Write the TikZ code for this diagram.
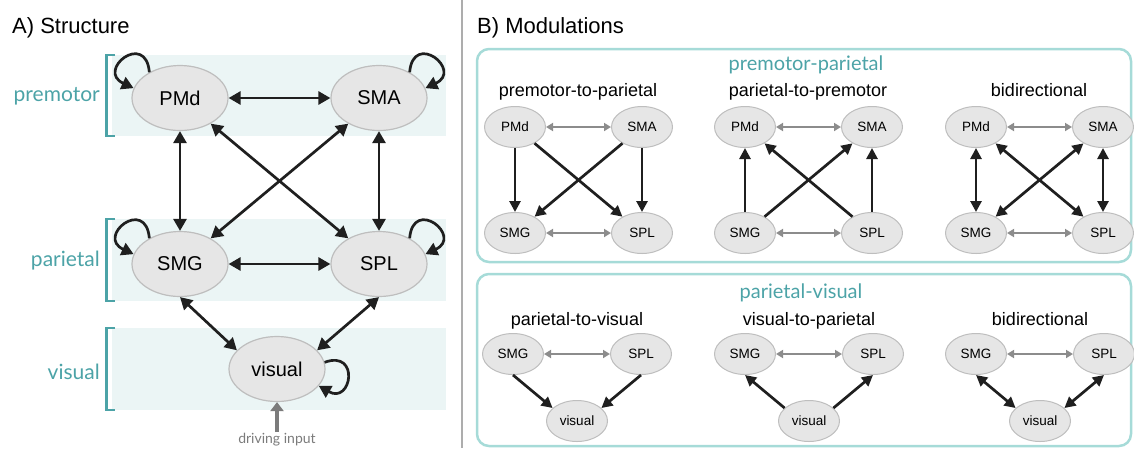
\documentclass[tikz,border=0pt]{standalone}
\usepackage{fontspec}
\setmainfont{Liberation Sans}
\newfontfamily\latofont{Lato}
\usetikzlibrary{arrows.meta, positioning, shapes.geometric}

\definecolor{areateal}{HTML}{4CA3A7}
\definecolor{bandteal}{HTML}{EBF5F5}
\definecolor{boxteal}{HTML}{A6DBD8}
\definecolor{nodegray}{HTML}{E6E6E6}
\definecolor{nodeline}{HTML}{BEBEBE}
\definecolor{sidegray}{HTML}{8C8C8C}
\definecolor{inputgray}{HTML}{7B7B7B}

\tikzset{
    region/.style={ellipse, fill=nodegray, draw=nodeline, line width=1.2pt,
        minimum width=96pt, minimum height=65pt, inner sep=0pt, font=\fontsize{20}{24}\selectfont},
    subregion/.style={ellipse, fill=nodegray, draw=nodeline, line width=1pt,
        minimum width=61pt, minimum height=41pt, inner sep=0pt, font=\fontsize{13.5}{16}\selectfont},
    link/.style={line width=2.7pt, black!88, {Triangle[length=12pt,width=13pt]}-{Triangle[length=12pt,width=13pt]}},
    selfloop/.style={line width=2.7pt, black!88, -{Triangle[length=12pt,width=13pt]}},
    sublink/.style={line width=2.7pt, black!88},
    lateral/.style={line width=1.8pt, sidegray, {Triangle[length=7pt,width=8pt]}-{Triangle[length=7pt,width=8pt]}},
    fwd/.style={-{Triangle[length=11pt,width=11pt]}},
    bwd/.style={{Triangle[length=11pt,width=11pt]}-},
    twoway/.style={{Triangle[length=11pt,width=11pt]}-{Triangle[length=11pt,width=11pt]}},
    paneltitle/.style={anchor=base west, inner sep=0pt, font=\fontsize{22}{26}\selectfont},
    arealabel/.style={anchor=east, inner sep=0pt, text=areateal, font=\latofont\fontsize{21}{25}\selectfont},
    grouptitle/.style={anchor=base, inner sep=0pt, text=areateal, font=\latofont\fontsize{20}{24}\selectfont},
    subtitle/.style={anchor=base, inner sep=0pt, font=\fontsize{18}{22}\selectfont},
}

\begin{document}
\begin{tikzpicture}[x=1pt, y=1pt]
\useasboundingbox (0,0) rectangle (1134,-448);

% A) structure
\node[paneltitle] (titleA) at (12,-33) {A) Structure};
\foreach \top/\bot/\ymid/\name in {55/136/96/premotor, 219/301/261/parietal, 328/410/372/visual} {
    \fill[bandteal] (112,-\top) rectangle (446,-\bot);
    \draw[areateal, line width=2.5pt] (115,-\top) -- (106.5,-\top) -- (106.5,-\bot) -- (115,-\bot);
    \node[arealabel] (lbl\name) at (100,-\ymid) {\name};
}

\node[region] (pmd) at (180,-98) {PMd};
\node[region] (sma) at (379,-98) {SMA};
\node[region] (smg) at (180,-264) {SMG};
\node[region] (spl) at (379,-264) {SPL};
\node[region] (visual) at (277,-369) {visual};

\draw[link] (pmd) -- (sma);
\draw[link] (smg) -- (spl);
\draw[link] (pmd) -- (smg);
\draw[link] (sma) -- (spl);
\draw[link] (pmd) -- (spl);
\draw[link] (sma) -- (smg);
\draw[link] (smg.south) -- (visual.155);
\draw[link] (spl.south) -- (visual.25);

\draw[selfloop] (pmd.140) to[out=95, in=155, distance=42pt] (pmd.168);
\draw[selfloop] (sma.40) to[out=85, in=25, distance=42pt] (sma.12);
\draw[selfloop] (smg.140) to[out=95, in=155, distance=42pt] (smg.168);
\draw[selfloop] (spl.40) to[out=85, in=25, distance=42pt] (spl.12);
\draw[selfloop] (visual.8) to[out=20, in=-30, distance=38pt] (visual.-22);

\coordinate (drive) at (277,-432);
\draw[inputgray, line width=4.5pt, -{Triangle[length=9pt,width=13pt]}] (drive) -- (visual);
\node[anchor=base, inner sep=0pt, text=inputgray, font=\latofont\fontsize{14}{17}\selectfont] (drivelabel) at (277,-443.5) {driving input};

\draw[black!32, line width=2.3pt] (462,0) -- (462,-448);

% B) modulations
\node[paneltitle] (titleB) at (477,-33) {B) Modulations};
\draw[boxteal, line width=2.5pt, rounded corners=12pt] (477,-49) rectangle (1131,-262);
\draw[boxteal, line width=2.5pt, rounded corners=12pt] (477,-274) rectangle (1131,-446);
\node[grouptitle] (grpPP) at (806,-70) {premotor-parietal};
\node[grouptitle] (grpPV) at (801,-298) {parietal-visual};

\foreach \g/\gx/\dir/\name in {1/515/fwd/premotor-to-parietal, 2/745/bwd/parietal-to-premotor, 3/976/twoway/bidirectional} {
    \node[subtitle] (ttl\g) at (\gx+63,-96) {\name};
    \node[subregion] (pmd\g) at (\gx,-127) {PMd};
    \node[subregion] (sma\g) at (\gx+127,-127) {SMA};
    \node[subregion] (smg\g) at (\gx,-233) {SMG};
    \node[subregion] (spl\g) at (\gx+127,-233) {SPL};
    \draw[lateral] (pmd\g) -- (sma\g);
    \draw[lateral] (smg\g) -- (spl\g);
    \draw[sublink,\dir] (pmd\g) -- (smg\g);
    \draw[sublink,\dir] (sma\g) -- (spl\g);
    \draw[sublink,\dir] (pmd\g) -- (spl\g);
    \draw[sublink,\dir] (sma\g) -- (smg\g);
}

\foreach \g/\gx/\dir/\name in {1/513/fwd/parietal-to-visual, 2/745/bwd/visual-to-parietal, 3/976/twoway/bidirectional} {
    \node[subtitle] (vttl\g) at (\gx+64,-325) {\name};
    \node[subregion] (vsmg\g) at (\gx,-354) {SMG};
    \node[subregion] (vspl\g) at (\gx+128,-354) {SPL};
    \node[subregion] (vvis\g) at (\gx+64,-421) {visual};
    \draw[lateral] (vsmg\g) -- (vspl\g);
    \draw[sublink,\dir] (vsmg\g.south) -- (vvis\g.152);
    \draw[sublink,\dir] (vspl\g.south) -- (vvis\g.28);
}
\end{tikzpicture}
\end{document}
